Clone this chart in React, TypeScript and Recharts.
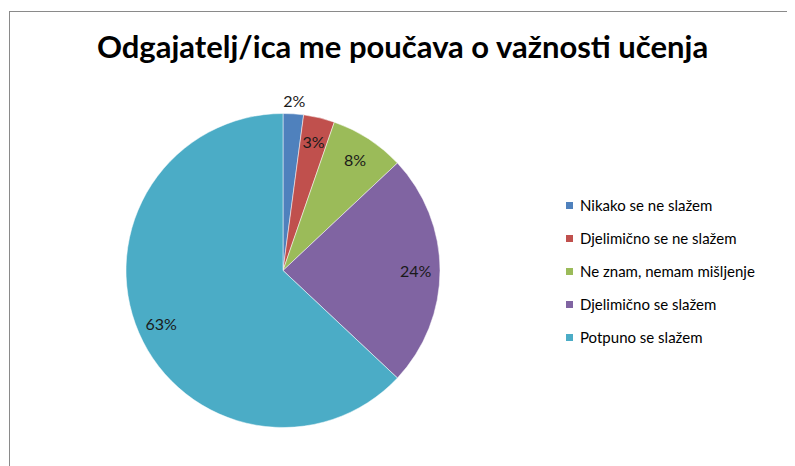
import React from "react";
import { PieChart, Pie, Cell, Legend } from "recharts";

const categories = [
  "Nikako se ne slažem",
  "Djelimično se ne slažem",
  "Ne znam, nemam mišljenje",
  "Djelimično se slažem",
  "Potpuno se slažem",
];
const values = [2.1, 3.2, 7.7, 24, 63];
const colors = ["#4F81BD", "#C0504D", "#9BBB59", "#8064A2", "#4BACC6"];
const title = "Odgajatelj/ica me poučava o važnosti učenja";

const data = categories.map((name, i) => ({ name, value: values[i] }));

const RADIAN = Math.PI / 180;
const FONT = "Lato, 'Open Sans', sans-serif";

const renderLabel = (props: any) => {
  const { cx, cy, midAngle, outerRadius, percent, index } = props;
  const r = index === 0 ? outerRadius + 13 : outerRadius * 0.845;
  const x = cx + r * Math.cos(-midAngle * RADIAN);
  const y = cy + r * Math.sin(-midAngle * RADIAN);
  return (
    <text
      x={x}
      y={y}
      textAnchor="middle"
      dominantBaseline="central"
      fill="#1a1a1a"
      fontSize={16}
      fontFamily={FONT}
    >
      {`${Math.round(percent * 100)}%`}
    </text>
  );
};

const renderLegend = (props: any) => {
  const payload = [...(props.payload || [])].sort(
    (a: any, b: any) => categories.indexOf(a.value) - categories.indexOf(b.value)
  );
  return (
    <div style={{ fontFamily: FONT, fontSize: 15, color: "#000" }}>
      {payload.map((entry: any, i: number) => (
        <div
          key={i}
          style={{ display: "flex", alignItems: "center", height: 33, whiteSpace: "nowrap" }}
        >
          <span
            style={{
              display: "inline-block",
              width: 7,
              height: 7,
              background: entry.color,
              marginRight: 7,
            }}
          />
          <span>{entry.value}</span>
        </div>
      ))}
    </div>
  );
};

export default function App() {
  return (
    <div style={{ position: "relative", width: 787, height: 458, overflow: "hidden", background: "#fff" }}>
      <div
        style={{
          position: "absolute",
          left: 1,
          top: 3,
          width: 900,
          height: 700,
          borderLeft: "1.5px solid #8a8a8a",
          borderTop: "1.5px solid #8a8a8a",
          boxSizing: "border-box",
        }}
      />
      <svg
        width={787}
        height={458}
        style={{ position: "absolute", left: 0, top: 0, pointerEvents: "none" }}
      >
        <text
          x={394.5}
          y={50}
          textAnchor="middle"
          fontFamily={FONT}
          fontWeight="bold"
          fontSize={31}
          fill="#000"
        >
          {title}
        </text>
      </svg>
      <div style={{ position: "absolute", left: 0, top: 0 }}>
        <PieChart width={787} height={458} margin={{ top: 0, right: 0, bottom: 0, left: 0 }}>
          <Pie
            data={data}
            dataKey="value"
            nameKey="name"
            cx={275}
            cy={262.5}
            outerRadius={157}
            startAngle={90}
            endAngle={-270}
            stroke="#ffffff"
            strokeWidth={0.5}
            label={renderLabel}
            labelLine={false}
            isAnimationActive={false}
          >
            {data.map((d, i) => (
              <Cell key={d.name} fill={colors[i]} />
            ))}
          </Pie>
          <Legend
            layout="vertical"
            content={renderLegend}
            wrapperStyle={{ position: "absolute", left: 558, top: 180.5, width: 229 }}
          />
        </PieChart>
      </div>
    </div>
  );
}
